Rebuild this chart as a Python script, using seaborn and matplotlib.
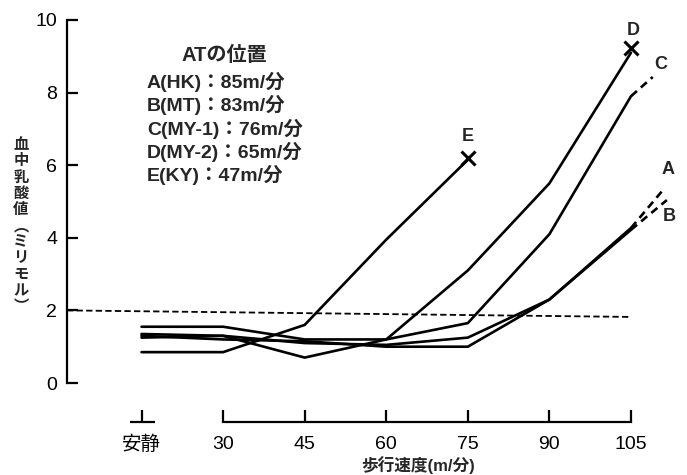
import matplotlib
matplotlib.use("Agg")
import matplotlib.pyplot as plt
import matplotlib.transforms as mtransforms
import numpy as np
import pandas as pd
import seaborn as sns

# ---- data ----
x_pos = [15, 30, 45, 60, 75, 90, 105]
x_labels = ["安静", "30", "45", "60", "75", "90", "105"]
A = [1.35, 1.30, 1.10, 1.05, 1.25, 2.30, 4.27]
B = [1.30, 1.20, 1.15, 1.00, 1.00, 2.30, 4.22]
C = [1.55, 1.55, 1.20, 1.20, 1.65, 4.10, 7.90]
D = [1.25, 1.30, 0.70, 1.20, 3.10, 5.50, 9.10]
E = [0.85, 0.85, 1.60, 3.95, 6.15]
A_ext_x, A_ext_y = [105, 110.9], [4.27, 5.32]
B_ext_x, B_ext_y = [105, 111.6], [4.22, 5.04]
C_ext_x, C_ext_y = [105, 109.0], [7.90, 8.43]
thr_x, thr_y = [1.3, 105], [2.0, 1.82]
legend_title = "ATの位置"
legend_lines = ["A(HK)：85m/分", "B(MT)：83m/分", "C(MY-1)：76m/分",
                "D(MY-2)：65m/分", "E(KY)：47m/分"]
ylabel_chars = ["血", "中", "乳", "酸", "値", "︵", "ミ", "リ", "モ", "ル", "︶"]
xlabel = "歩行速度(m/分)"

sns.set_style("ticks")
plt.rcParams["font.family"] = ["Liberation Sans", "Noto Sans CJK JP", "DejaVu Sans"]

rows = []
for name, ys in zip("ABCDE", [A, B, C, D, E]):
    for xv, yv in zip(x_pos, ys):
        rows.append({"series": name, "x": xv, "y": yv})
df = pd.DataFrame(rows)

fig = plt.figure(figsize=(6.87, 4.75), dpi=100)
ax = fig.add_axes([67 / 687, (475 - 383) / 475, (674.5 - 67) / 687, (383 - 20) / 475])

sns.lineplot(data=df, x="x", y="y", units="series", estimator=None, sort=False,
             color="black", lw=1.9, ax=ax, legend=False)
for ex, ey in [(A_ext_x, A_ext_y), (B_ext_x, B_ext_y), (C_ext_x, C_ext_y)]:
    ax.plot(ex, ey, color="black", lw=1.9, ls=(0, (3, 2)), clip_on=False)
ax.plot(thr_x, thr_y, color="black", lw=1.3, ls=(0, (3.5, 1.8)))

# end markers
ax.plot([x_pos[len(E) - 1]], [E[-1] + 0.05], marker="x", ms=10, mew=2.2, color="black", ls="none")
ax.plot([x_pos[-1]], [D[-1] + 0.12], marker="x", ms=10, mew=2.2, color="black", ls="none", clip_on=False)

lab_kw = dict(fontsize=13, fontweight="bold", ha="center", va="center")
ax.text(x_pos[len(E) - 1], E[-1] + 0.65, "E", **lab_kw)
ax.text(x_pos[-1] + 0.4, D[-1] + 0.6, "D", **lab_kw)
ax.text(C_ext_x[-1] + 1.4, C_ext_y[-1] + 0.35, "C", **lab_kw)
ax.text(A_ext_x[-1] + 1.0, A_ext_y[-1] + 0.55, "A", **lab_kw)
ax.text(B_ext_x[-1] + 0.5, B_ext_y[-1] - 0.45, "B", **lab_kw)

ax.set_xlim(1.3, 113)
ax.set_ylim(0, 10)
ax.set_yticks([0, 2, 4, 6, 8, 10])
ax.set_xticks(x_pos)
ax.set_xticklabels(x_labels)
ax.set_xlabel("")
ax.set_ylabel("")

for s in ["top", "right"]:
    ax.spines[s].set_visible(False)
ax.spines["bottom"].set_position(("outward", 28))
ax.spines["bottom"].set_bounds(30, 105)
for s in ["left", "bottom"]:
    ax.spines[s].set_linewidth(1.6)
    ax.spines[s].set_color("black")

ax.tick_params(axis="y", direction="in", length=8, width=1.6, labelsize=14, pad=7, colors="black")
ax.tick_params(axis="x", direction="in", length=8.5, width=1.6, labelsize=14, pad=10, colors="black")

# short baseline under the rest tick
trans = mtransforms.blended_transform_factory(ax.transData, ax.transAxes)
ax.plot([12.8, 17.4], [-39 / 363, -39 / 363], transform=trans, color="black", lw=1.6,
        clip_on=False, solid_capstyle="butt")

# legend block
fig.text(224 / 687, 1 - 55 / 475, legend_title, fontsize=14.5, fontweight="bold",
         ha="center", va="center")
for i, t in enumerate(legend_lines):
    fig.text(147 / 687, 1 - (82 + i * 23.3) / 475, t, fontsize=14, fontweight="bold",
             ha="left", va="center")

# vertical y label
n = len(ylabel_chars)
y0, y1 = 144, 306
for i, ch in enumerate(ylabel_chars):
    yy = y0 + (y1 - y0) * i / (n - 1)
    fig.text(21 / 687, 1 - yy / 475, ch, fontsize=11, fontweight="bold",
             ha="center", va="center", family=["Noto Sans CJK JP", "DejaVu Sans"])

fig.text(418 / 687, 1 / 475, xlabel, fontsize=12, fontweight="bold",
         ha="center", va="bottom")

fig.savefig("out.png", dpi=100)
